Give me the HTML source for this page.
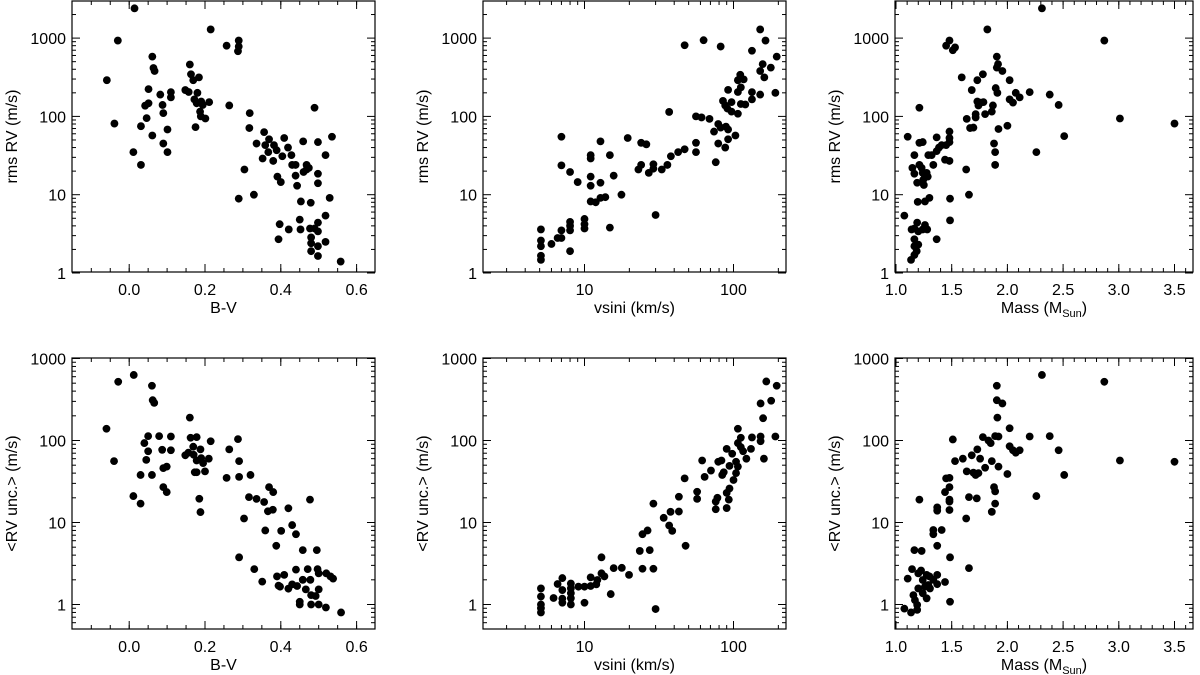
<!DOCTYPE html>
<html><head><meta charset="utf-8">
<style>
body{margin:0;background:#fff;}
svg{display:block;font-family:"Liberation Sans",Arial,sans-serif;}
</style></head>
<body>
<svg id="c" width="1200" height="675" viewBox="0 0 1200 675" xmlns="http://www.w3.org/2000/svg"></svg>
<script>
// ---- data ----
const bvTop = [0.014,-0.03,-0.059,-0.039,0.011,0.031,0.031,0.042,0.046,0.051,0.051,0.061,0.064,0.067,0.061,0.082,0.088,0.09,0.09,0.101,0.101,0.11,0.11,0.148,0.157,0.16,0.163,0.169,0.172,0.175,0.178,0.18,0.184,0.189,0.187,0.19,0.194,0.201,0.211,0.215,0.257,0.264,0.289,0.289,0.287,0.289,0.304,0.318,0.317,0.329,0.336,0.352,0.356,0.359,0.369,0.367,0.38,0.382,0.389,0.391,0.397,0.394,0.4,0.404,0.409,0.419,0.421,0.428,0.43,0.439,0.439,0.443,0.45,0.453,0.452,0.459,0.46,0.468,0.468,0.474,0.477,0.479,0.48,0.48,0.48,0.489,0.489,0.498,0.498,0.498,0.498,0.498,0.498,0.498,0.518,0.518,0.518,0.529,0.535,0.558];
const rmsBv = [2400,930,290,81,35,24,75,137,95,147,223,580,415,380,57,190,140,110,45,68,35,204,175,217,205,460,345,290,165,73,147,200,315,100,115,155,140,94,152,1290,800,138,930,780,680,8.9,21,110,71,10,45,29,63,43,51,35,27,43,37,17,4.2,2.7,14.5,31,53,40,3.6,32,24,24,17.5,13,4.8,8.2,3.6,48,19.5,21,24,22,3.7,7.9,2.85,2.4,1.9,129,3.7,47,18.5,14,4.4,3.4,2.2,1.65,32,5.4,2.5,9.1,55,1.4];
const vsiniTop = [5.1,5.1,5.1,5.1,5.1,6.0,6.6,7.0,7.0,7.0,7.0,8,8,8,8,8,9,10,10,10,11,11,11,11,11,11.9,12.8,12.8,12.8,13.8,14.8,14.8,15.7,17.7,19.5,23,24,24,26,27,29,29,30,33,36,37,38,42.5,47,47,56,56,56,61,63,69,74,76,79,79,82,82,85,88,89,88,91,92,92,92,97,97,103,107,107,107,111,112,112,117,120,133,133,133,151,151,151,157,161,164,178,191,195];
const rmsV = [3.6,2.6,2.2,1.66,1.47,2.35,2.8,2.8,3.5,55,23.7,19.5,4.5,4.0,3.5,1.9,14.5,4.9,4.2,3.7,17,13,8.2,32,29,8,14.2,9.1,48,9.3,32,3.8,17.5,10,53,21,24,46,44,19,24.5,21.5,5.5,21,24,114,31,35,38,810,100,35,46,97,940,93,64,26,80,45,780,72,158,40,74,138,126,68,51,218,152,115,57,290,205,108,340,235,144,297,142,204,165,690,1290,380,190,465,315,930,420,200,580];
const massTop = [2.31,2.87,3.01,3.5,1.82,1.48,1.45,1.53,1.51,1.105,1.075,1.135,1.165,1.186,1.165,1.165,1.14,1.165,1.19,1.2,1.2,1.24,1.26,1.28,1.195,1.26,1.3,1.365,1.147,1.165,1.165,1.19,1.21,1.21,1.24,1.21,1.23,1.24,1.245,1.25,1.275,1.285,1.29,1.32,1.335,1.365,1.365,1.386,1.41,1.44,1.45,1.48,1.48,1.48,1.48,1.485,1.485,1.59,1.635,1.63,1.655,1.665,1.68,1.695,1.715,1.715,1.73,1.73,1.74,1.76,1.78,1.785,1.8,1.86,1.87,1.88,1.89,1.89,1.895,1.905,1.905,1.91,1.916,1.92,1.955,2.0,2.02,2.02,2.05,2.075,2.11,2.2,2.26,2.38,2.46,2.51];
const rmsM = [2400,930,94,81,1290,930,800,760,700,55,5.4,1.47,1.7,1.9,2.7,2.2,3.6,3.7,4.4,3.4,2.3,3.6,4.1,3.6,8.1,8.2,9.1,2.7,22,18.5,32,14.2,129,46,47,24,22,19,15.5,13.3,19,17,32,32,24,36,54,40,43,28,43,27,47,53,64,8.9,4.7,315,93,21,10,71,217,72,107,97,290,155,138,150,345,152,107,115,138,45,35,24,230,580,420,200,465,69,380,76,290,165,150,200,175,204,35,190,140,56];
const bvBot = [-0.06,-0.04,-0.029,0.012,0.011,0.03,0.03,0.04,0.045,0.05,0.05,0.06,0.062,0.066,0.06,0.079,0.087,0.09,0.099,0.09,0.099,0.11,0.11,0.148,0.156,0.16,0.162,0.169,0.17,0.178,0.178,0.173,0.178,0.188,0.19,0.195,0.21,0.2,0.185,0.188,0.215,0.257,0.264,0.287,0.29,0.29,0.29,0.303,0.316,0.32,0.33,0.336,0.351,0.356,0.359,0.366,0.369,0.379,0.38,0.388,0.39,0.394,0.398,0.401,0.409,0.42,0.42,0.43,0.43,0.44,0.44,0.443,0.458,0.458,0.45,0.45,0.466,0.471,0.477,0.478,0.48,0.48,0.492,0.495,0.497,0.5,0.5,0.5,0.519,0.52,0.531,0.538,0.559];
const uncBv = [139,56,520,630,21,17,38,93,58,74,113,465,310,288,38,113,77,46,48,27,23.5,112,76,66,71,190,108,84,67,110,57,41,41,78,61,53,60,42,19.5,13.4,98,35,78,104,56,36,3.76,11.2,20.4,38,2.7,19.4,1.9,17.8,8,13.7,27,14.3,23.5,5.2,2.2,1.7,1.65,7.9,2.3,14.9,1.56,9.3,1.76,7.2,2.66,1.68,4.6,2.0,1.08,1.0,1.53,2.7,19,2.0,1.3,1.0,1.27,4.6,2.7,2.4,1.53,1.0,0.92,2.4,2.2,2.07,0.8];
const vsiniBot = [5.1,5.1,5.1,5.1,5.1,6.2,6.6,7.1,7.1,7.1,7.1,8.1,8.1,8.1,8.1,8.1,9.1,10,10,11,11,12,12.2,13,13,13.6,15,15.7,17.8,19.9,23.5,24.5,24.5,26.5,27.4,29,29,30,34,37,37.8,38.8,43,43,47,47.7,57,57,61.6,64,70.6,76,76,78,79,83,84,86,90,90,90,93,94,94,98,100,104,104,107,107,107,112,112,116,122,131,133,152,152,152,158,160,166,179,191,195];
const uncV = [1.57,1.25,1.0,0.9,0.8,1.2,1.78,2.1,1.5,1.18,1.05,1.8,1.57,1.37,1.19,1.0,1.65,1.65,1.05,2.14,1.68,1.76,1.99,3.76,2.4,2.2,1.34,2.78,2.8,2.3,4.5,7.2,2.73,8.0,4.6,17,2.73,0.88,11.4,9.2,13.5,7.9,20.6,13.6,34.5,5.2,23.7,19.4,57,36,43,18,14.5,20,55,57,38,41,79,23,15,19,26,49,69,33,40,55,139,93,48,83,108,74,60,79,109,112,98,283,187,60,525,305,112,465];
const massBot = [1.075,1.135,1.105,1.144,1.165,1.156,1.17,1.19,1.19,1.2,1.2,1.21,1.225,1.23,1.24,1.24,1.26,1.275,1.275,1.29,1.3,1.305,1.335,1.335,1.335,1.37,1.37,1.37,1.37,1.37,1.41,1.44,1.44,1.45,1.48,1.48,1.48,1.48,1.48,1.485,1.485,1.51,1.53,1.6,1.635,1.63,1.655,1.655,1.68,1.695,1.715,1.725,1.73,1.74,1.755,1.78,1.8,1.83,1.85,1.86,1.86,1.88,1.89,1.89,1.89,1.905,1.905,1.91,1.92,1.92,1.955,2.0,2.02,2.02,2.05,2.075,2.11,2.2,2.26,2.31,2.38,2.46,2.51,2.87,3.01,3.5];
const uncM = [0.89,0.8,2.07,2.7,4.6,1.3,1.13,0.99,0.86,1.57,2.4,19,2.6,4.5,1.99,1.37,1.65,2.3,1.19,1.73,2.2,1.57,2.0,8.1,7.2,1.77,2.3,15.3,13.9,5.2,8.1,1.88,23.5,34.5,35,27,19,18,14.2,3.76,1.08,103,56,60,42,11.2,2.78,20.4,66,40.5,38,19.7,78,40,60,110,46.5,100,93,56,13.5,27,24,17,113,465,310,190,112,48,283,39,141,85,76,71,76,112,21,630,113,76,38,520,57,55];
const bvTicks = [0.0,0.2,0.4,0.6];
const vsiniTicks = [10,100];
const massTicks = [1.0,1.5,2.0,2.5,3.0,3.5];
const topYTicks = [1,10,100,1000];
const botYTicks = [1,10,100,1000];

const NS="http://www.w3.org/2000/svg";
const svg=document.getElementById('c');
function mk(tag,attrs,parent){const e=document.createElementNS(NS,tag);for(const k in attrs)e.setAttribute(k,attrs[k]);(parent||svg).appendChild(e);return e;}

const yTop = v => 273 - 78.3*Math.log10(v);
const yBot = v => 604.5 - 82*Math.log10(v);
const xBV = v => 129.2 + v*379;
const xVs = v => 584.5 + (Math.log10(v)-1)*149;
const xMs = v => 896 + (v-1)*111.4;

function panel(id,box,xs,ys,xTlabel,yT,xs_minor,ys_minor,xs_major,xd,yd,xlab,ylab){
  const g=mk('g',{});
  
  
  const [L,T,R,B]=box;
  const fr=mk('rect',{x:L,y:T,width:R-L,height:B-T,fill:'none',stroke:'#000','stroke-width':1.2},g);
  
  
  xs_major.forEach((v,i)=>{const x=xs(v);
    mk('line',{x1:x,x2:x,y1:B,y2:B-8,stroke:'#000'},g);
    mk('line',{x1:x,x2:x,y1:T,y2:T+8,stroke:'#000'},g);
    const t=mk('text',{x:x,y:B+23,'text-anchor':'middle','font-size':16},g);t.textContent=xTlabel[i];
    
    
  });
  xs_minor.forEach(v=>{const x=xs(v);if(x<L+1||x>R-1)return;
    mk('line',{x1:x,x2:x,y1:B,y2:B-4,stroke:'#000'},g);
    mk('line',{x1:x,x2:x,y1:T,y2:T+4,stroke:'#000'},g);});
  yT.forEach(v=>{const y=ys(v);
    mk('line',{x1:L,x2:L+8,y1:y,y2:y,stroke:'#000'},g);
    mk('line',{x1:R,x2:R-8,y1:y,y2:y,stroke:'#000'},g);
    const t=mk('text',{x:L-6,y:y+6,'text-anchor':'end','font-size':16},g);t.textContent=String(v);
    
    
  });
  ys_minor.forEach(v=>{const y=ys(v);if(y<T+1||y>B-1)return;
    mk('line',{x1:L,x2:L+4,y1:y,y2:y,stroke:'#000'},g);
    mk('line',{x1:R,x2:R-4,y1:y,y2:y,stroke:'#000'},g);});
  xd.forEach((v,i)=>{const c=mk('circle',{cx:xs(v),cy:ys(yd[i]),r:3.9,fill:'#000'},g);
    
    });
  const xl=mk('text',{x:(L+R)/2,y:B+41,'text-anchor':'middle','font-size':16},g);
  xl.innerHTML=xlab;
  
  
  const cy=(T+B)/2, cx=L-55;
  const yl=mk('text',{x:cx,y:cy,'text-anchor':'middle','font-size':16,transform:`rotate(-90 ${cx} ${cy})`},g);
  yl.textContent=ylab;
  
  
}
const logMinor=[];for(let d=0.1;d<=1000;d*=10)for(let k=2;k<=9;k++)logMinor.push(k*d);
const bvMinor=[];for(let v=-0.15;v<=0.65;v+=0.05)bvMinor.push(+v.toFixed(2));
const msMinor=[];for(let v=0.9;v<=3.7;v+=0.1)msMinor.push(+v.toFixed(2));
const vsMinor=[];for(let d=1;d<=100;d*=10)for(let k=2;k<=9;k++)vsMinor.push(k*d);
const bvLab=['0.0','0.2','0.4','0.6'], msLab=['1.0','1.5','2.0','2.5','3.0','3.5'], vsLab=['10','100'];
const massTitle='Mass (M<tspan font-size="11" dy="4">Sun</tspan><tspan dy="-4">)</tspan>';

panel('panel-rms-bv',[72,1,375,272],xBV,yTop,bvLab,topYTicks,bvMinor,logMinor,bvTicks,bvTop,rmsBv,'B-V','rms RV (m/s)');
panel('panel-rms-vsini',[483,1,786,272],xVs,yTop,vsLab,topYTicks,vsMinor,logMinor,vsiniTicks,vsiniTop,rmsV,'vsini (km/s)','rms RV (m/s)');
panel('panel-rms-mass',[895,1,1193,272],xMs,yTop,msLab,topYTicks,msMinor,logMinor,massTicks,massTop,rmsM,massTitle,'rms RV (m/s)');
panel('panel-unc-bv',[72,358,375,629],xBV,yBot,bvLab,botYTicks,bvMinor,logMinor,bvTicks,bvBot,uncBv,'B-V','<RV unc.> (m/s)');
panel('panel-unc-vsini',[483,358,786,629],xVs,yBot,vsLab,botYTicks,vsMinor,logMinor,vsiniTicks,vsiniBot,uncV,'vsini (km/s)','<RV unc.> (m/s)');
panel('panel-unc-mass',[895,358,1193,629],xMs,yBot,msLab,botYTicks,msMinor,logMinor,massTicks,massBot,uncM,massTitle,'<RV unc.> (m/s)');
</script>
</body></html>
